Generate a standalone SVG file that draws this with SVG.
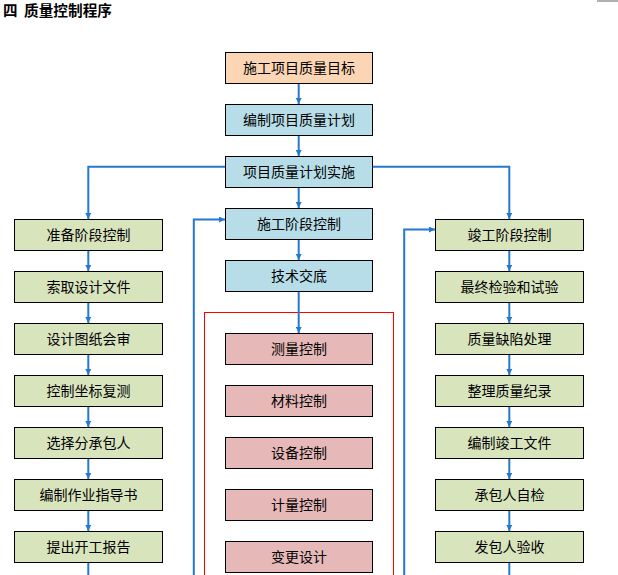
<svg xmlns="http://www.w3.org/2000/svg" width="618" height="575" viewBox="0 0 618 575">
<defs>
<marker id="ah" viewBox="0 0 8 8" refX="8" refY="4" markerWidth="6" markerHeight="6" markerUnits="userSpaceOnUse" orient="auto">
<path d="M0,0 L8,4 L0,8 z" fill="#2479CF"/>
</marker>
<style>
.t{font-family:"Noto Sans CJK SC","Noto Sans",sans-serif;font-size:14px;fill:#000;text-anchor:middle}
.h{font-family:"Noto Sans CJK SC",sans-serif;font-size:14.5px;font-weight:bold;fill:#000}
.b rect{stroke:#000;stroke-width:1}
.pe{fill:#FCD5B4}.bl{fill:#B7DEE8}.gr{fill:#D8E4BC}.pk{fill:#E6B9B8}
.c path{fill:none;stroke:#2479CF;stroke-width:2}
.a{marker-end:url(#ah)}
</style>
</defs>
<rect width="618" height="575" fill="#fff"/>
<rect x="597" y="0" width="21" height="2" fill="#b0b0b0"/>
<text class="h" x="3" y="16">四</text>
<text class="h" x="24" y="16" textLength="88" lengthAdjust="spacingAndGlyphs">质量控制程序</text>
<rect id="group-box" x="204.5" y="312.5" width="189" height="270" fill="none" stroke="#FF0000" stroke-width="1"/>
<g class="c" id="connectors">
<path class="a" d="M298.7,83.5 V104"/>
<path class="a" d="M298.7,135.5 V156"/>
<path class="a" d="M298.7,187.5 V208"/>
<path class="a" d="M298.7,239.5 V260"/>
<path class="a" d="M298.7,291.5 V333"/>
<path class="a" d="M225.5,166.7 H88.3 V219"/>
<path class="a" d="M372.5,166.7 H509.3 V219"/>
<path class="a" d="M193.8,580 V219.5 H225"/>
<path class="a" d="M404.2,580 V229.5 H435"/>
<path class="a" d="M88.3,250.5 V271"/>
<path class="a" d="M88.3,302.5 V323"/>
<path class="a" d="M88.3,354.5 V375"/>
<path class="a" d="M88.3,406.5 V427"/>
<path class="a" d="M88.3,458.5 V479"/>
<path class="a" d="M88.3,510.5 V531"/>
<path d="M88.3,562.5 V580"/>
<path class="a" d="M509.3,250.5 V271"/>
<path class="a" d="M509.3,302.5 V323"/>
<path class="a" d="M509.3,354.5 V375"/>
<path class="a" d="M509.3,406.5 V427"/>
<path class="a" d="M509.3,458.5 V479"/>
<path class="a" d="M509.3,510.5 V531"/>
<path d="M509.3,562.5 V580"/>
</g>
<g class="b">
<g id="n1"><rect class="pe" x="225.5" y="52.5" width="147" height="31"/><text class="t" x="299" y="72.5">施工项目质量目标</text></g>
<g id="n2"><rect class="bl" x="225.5" y="104.5" width="147" height="31"/><text class="t" x="299" y="124.5">编制项目质量计划</text></g>
<g id="n3"><rect class="bl" x="225.5" y="156.5" width="147" height="31"/><text class="t" x="299" y="176.5">项目质量计划实施</text></g>
<g id="n4"><rect class="bl" x="225.5" y="208.5" width="147" height="31"/><text class="t" x="299" y="228.5">施工阶段控制</text></g>
<g id="n5"><rect class="bl" x="225.5" y="260.5" width="147" height="31"/><text class="t" x="299" y="280.5">技术交底</text></g>
<g id="m1"><rect class="pk" x="225.5" y="333.5" width="147" height="31"/><text class="t" x="299" y="353.5">测量控制</text></g>
<g id="m2"><rect class="pk" x="225.5" y="385.5" width="147" height="31"/><text class="t" x="299" y="405.5">材料控制</text></g>
<g id="m3"><rect class="pk" x="225.5" y="437.5" width="147" height="31"/><text class="t" x="299" y="457.5">设备控制</text></g>
<g id="m4"><rect class="pk" x="225.5" y="489.5" width="147" height="31"/><text class="t" x="299" y="509.5">计量控制</text></g>
<g id="m5"><rect class="pk" x="225.5" y="541.5" width="147" height="31"/><text class="t" x="299" y="561.5">变更设计</text></g>
<g id="l1"><rect class="gr" x="14.5" y="219.5" width="148" height="31"/><text class="t" x="88.5" y="239.5">准备阶段控制</text></g>
<g id="l2"><rect class="gr" x="14.5" y="271.5" width="148" height="31"/><text class="t" x="88.5" y="291.5">索取设计文件</text></g>
<g id="l3"><rect class="gr" x="14.5" y="323.5" width="148" height="31"/><text class="t" x="88.5" y="343.5">设计图纸会审</text></g>
<g id="l4"><rect class="gr" x="14.5" y="375.5" width="148" height="31"/><text class="t" x="88.5" y="395.5">控制坐标复测</text></g>
<g id="l5"><rect class="gr" x="14.5" y="427.5" width="148" height="31"/><text class="t" x="88.5" y="447.5">选择分承包人</text></g>
<g id="l6"><rect class="gr" x="14.5" y="479.5" width="148" height="31"/><text class="t" x="88.5" y="499.5">编制作业指导书</text></g>
<g id="l7"><rect class="gr" x="14.5" y="531.5" width="148" height="31"/><text class="t" x="88.5" y="551.5">提出开工报告</text></g>
<g id="r1"><rect class="gr" x="435.5" y="219.5" width="148" height="31"/><text class="t" x="509.5" y="239.5">竣工阶段控制</text></g>
<g id="r2"><rect class="gr" x="435.5" y="271.5" width="148" height="31"/><text class="t" x="509.5" y="291.5">最终检验和试验</text></g>
<g id="r3"><rect class="gr" x="435.5" y="323.5" width="148" height="31"/><text class="t" x="509.5" y="343.5">质量缺陷处理</text></g>
<g id="r4"><rect class="gr" x="435.5" y="375.5" width="148" height="31"/><text class="t" x="509.5" y="395.5">整理质量纪录</text></g>
<g id="r5"><rect class="gr" x="435.5" y="427.5" width="148" height="31"/><text class="t" x="509.5" y="447.5">编制竣工文件</text></g>
<g id="r6"><rect class="gr" x="435.5" y="479.5" width="148" height="31"/><text class="t" x="509.5" y="499.5">承包人自检</text></g>
<g id="r7"><rect class="gr" x="435.5" y="531.5" width="148" height="31"/><text class="t" x="509.5" y="551.5">发包人验收</text></g>
</g>
</svg>
